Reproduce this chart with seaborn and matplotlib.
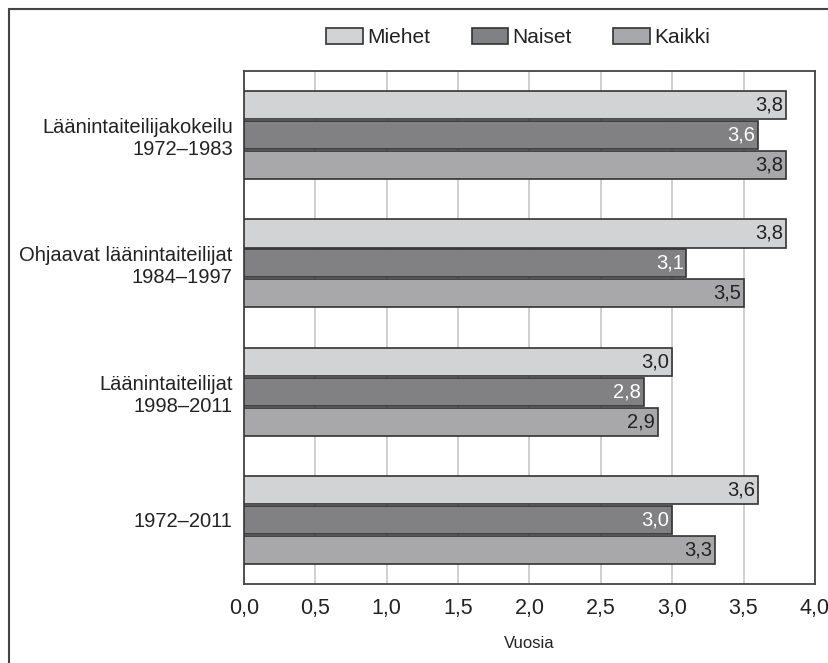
import pandas as pd
import matplotlib.pyplot as plt
import matplotlib.patches as mpatches
from matplotlib.ticker import FuncFormatter
import seaborn as sns

# Tiedot kuvasta
kategoriat = ["Läänintaiteilijakokeilu\n1972–1983",
              "Ohjaavat läänintaiteilijat\n1984–1997",
              "Läänintaiteilijat\n1998–2011",
              "1972–2011"]
ryhmat = ["Miehet", "Naiset", "Kaikki"]
miehet = [3.8, 3.8, 3.0, 3.6]
naiset = [3.6, 3.1, 2.8, 3.0]
kaikki = [3.8, 3.5, 2.9, 3.3]
xtiks = [0.0, 0.5, 1.0, 1.5, 2.0, 2.5, 3.0, 3.5, 4.0]

varit = {"Miehet": "#d2d3d5", "Naiset": "#808184", "Kaikki": "#a7a8ab"}

rows = []
for ryhma, arvot in zip(ryhmat, [miehet, naiset, kaikki]):
    for kat, v in zip(kategoriat, arvot):
        rows.append({"kategoria": kat, "ryhma": ryhma, "vuosia": v})
df = pd.DataFrame(rows)

sns.set_style("white")
plt.rcParams['font.family'] = ['Liberation Sans', 'DejaVu Sans']

fig = plt.figure(figsize=(8.29, 6.63), dpi=100)
ax = fig.add_axes([0.2943, 0.119, 0.983 - 0.2943, 0.893 - 0.119])

sns.barplot(data=df, y="kategoria", x="vuosia", hue="ryhma", order=kategoriat,
            hue_order=ryhmat, palette=varit, orient="h", width=0.7, gap=0.06,
            edgecolor="#333333", linewidth=1.2, legend=False, ax=ax, zorder=3)

ax.set_xlim(0, 4.0)
ax.set_ylim(3.5, -0.5)
ax.set_xticks(xtiks)
ax.xaxis.set_major_formatter(FuncFormatter(lambda v, p: f"{v:.1f}".replace(".", ",")))
ax.grid(axis="x", color="#c8c8c8", linewidth=1.2, zorder=0)
ax.set_axisbelow(True)
ax.tick_params(axis="both", length=0, colors="#222222")
ax.tick_params(axis="x", pad=10, labelsize=15.5)
ax.tick_params(axis="y", pad=8, labelsize=14.5)
ax.set_ylabel("")
ax.set_xlabel("Vuosia", fontsize=12, color="#222222", labelpad=12)
for s in ax.spines.values():
    s.set_color("#444444")
    s.set_linewidth(1.3)

# Arvot palkkien sisään
for ryhma, cont in zip(ryhmat, ax.containers):
    vari = "white" if ryhma == "Naiset" else "#222222"
    for bar in cont:
        w = bar.get_width()
        y = bar.get_y() + bar.get_height() / 2
        ax.annotate(f"{w:.1f}".replace(".", ","), (w, y), xytext=(-2, 0),
                    textcoords="offset points", ha="right", va="center",
                    fontsize=14.5, color=vari, zorder=5)

# Selite ylhäällä
kahvat = [mpatches.Patch(facecolor=varit[r], edgecolor="#333333", linewidth=1.2, label=r)
          for r in ryhmat]
fig.legend(handles=kahvat, loc="center", bbox_to_anchor=(0.625, 0.943), ncol=3,
           frameon=False, fontsize=15, handlelength=1.75, handleheight=0.8,
           handletextpad=0.2, columnspacing=2.0, labelcolor="#222222")

# Kuvan kehys
fig.patches.append(mpatches.Rectangle((9 / 829, -0.05), 1.2, 1 - 9 / 663 + 0.05,
                                      transform=fig.transFigure, fill=False,
                                      edgecolor="#444444", linewidth=1.5))

fig.savefig("out.png", dpi=100)
